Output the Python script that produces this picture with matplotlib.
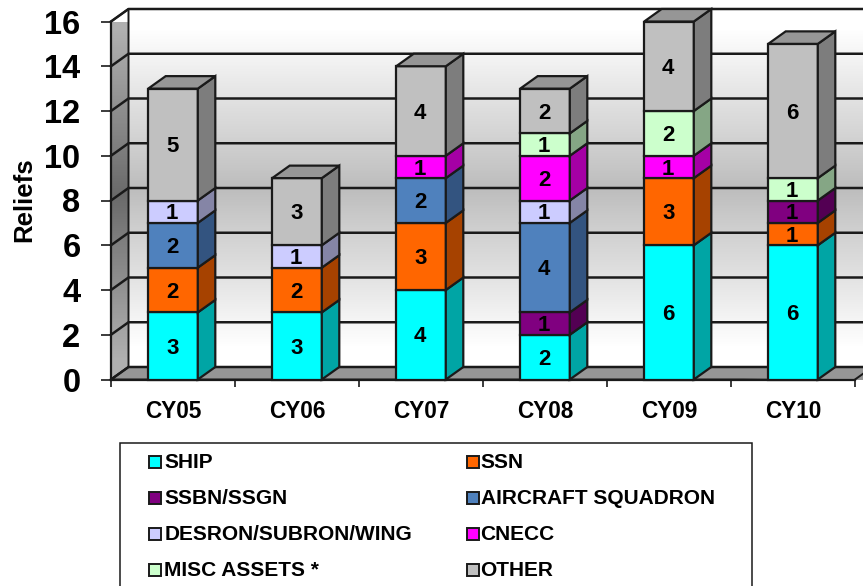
import matplotlib
matplotlib.use("Agg")
import matplotlib.pyplot as plt
from matplotlib.colors import LinearSegmentedColormap
from matplotlib.patches import Polygon, Rectangle
import numpy as np

years = ["CY05", "CY06", "CY07", "CY08", "CY09", "CY10"]
ship = [3, 3, 4, 2, 6, 6]
ssn = [2, 2, 3, 0, 3, 1]
ssbn = [0, 0, 0, 1, 0, 1]
aircraft = [2, 0, 2, 4, 0, 0]
desron = [1, 1, 0, 1, 0, 0]
cnecc = [0, 0, 1, 2, 1, 0]
misc = [0, 0, 0, 1, 2, 1]
other = [5, 3, 4, 2, 4, 6]

names = ["SHIP", "SSN", "SSBN/SSGN", "AIRCRAFT SQUADRON",
         "DESRON/SUBRON/WING", "CNECC", "MISC ASSETS *", "OTHER"]
series = [ship, ssn, ssbn, aircraft, desron, cnecc, misc, other]
colors = ["#00FFFF", "#FF6600", "#800080", "#4F81BD",
          "#CCCCFF", "#FF00FF", "#CCFFCC", "#C0C0C0"]
side_colors = ["#00A5A5", "#A64200", "#530053", "#335480",
               "#8585A6", "#A500A5", "#85A685", "#7D7D7D"]
top_color = "#969696"
line_color = "#1a1a1a"

W, H = 863, 586
DX = 17.5 / 124
DY = 12.5 * 16 / 358
BAR = 0.4

plt.rcParams["font.family"] = ["Liberation Sans", "DejaVu Sans"]
plt.rcParams["font.weight"] = "bold"


def figx(px):
    return px / W


def figy(py):
    return 1 - py / H


fig = plt.figure(figsize=(W / 100, H / 100), dpi=100)
ax = fig.add_axes([figx(111), figy(379.5), 744 / W, 358 / H])

# walls and floor
grad = np.array([0.0, 0.12, 0.25, 0.37, 0.5, 0.63, 0.75, 0.88, 1.0]).reshape(-1, 1)
back_map = LinearSegmentedColormap.from_list("back", ["#ffffff", "#bdbdbd", "#ffffff"])
side_map = LinearSegmentedColormap.from_list("side", ["#b0b0b0", "#6a6a6a", "#b0b0b0"])

ax.imshow(grad, cmap=back_map, extent=(-0.5 + DX, 6.5, DY, 16 + DY), aspect="auto",
          interpolation="bilinear", zorder=0, clip_on=False)
wall = ax.imshow(grad, cmap=side_map, extent=(-0.5, -0.5 + DX, 0, 16 + DY), aspect="auto",
                 interpolation="bilinear", zorder=0)
wall_shape = Polygon([(-0.5, 0), (-0.5 + DX, DY), (-0.5 + DX, 16 + DY), (-0.5, 16)],
                     closed=True, fc="none", ec=line_color, lw=1.4, zorder=1, clip_on=False)
ax.add_patch(wall_shape)
wall.set_clip_path(wall_shape)
ax.add_patch(Polygon([(-0.5, 0), (-0.5 + DX, DY), (6.5, DY), (5.5 + DX, DY), (5.5, 0)],
                     closed=True, fc=top_color, ec=line_color, lw=1.4, zorder=1, clip_on=False))
ax.add_patch(Polygon([(-0.5 + DX, DY), (5.5 + DX, DY), (5.5 + DX, 0), (5.5, 0)],
                     closed=True, fc=top_color, ec="none", zorder=1, clip_on=False))
ax.plot([5.5, 5.5 + DX], [0, DY], color=line_color, lw=1.4, zorder=1, clip_on=False)

# gridlines on the walls
for v in range(0, 18, 2):
    ax.plot([-0.5, -0.5 + DX, 6.5], [v, v + DY, v + DY], color=line_color, lw=1.8,
            zorder=2, clip_on=False)

# stacked bars
x = np.arange(len(years))
bottom = np.zeros(len(years))
for values, col, side in zip(series, colors, side_colors):
    values = np.array(values)
    for i in x:
        if values[i] == 0:
            continue
        y0, y1 = bottom[i], bottom[i] + values[i]
        r = i + BAR / 2
        ax.bar(i, values[i], BAR, bottom=y0, color=col, edgecolor=line_color, lw=1.6,
               zorder=5, clip_on=False)
        ax.fill([r, r + DX, r + DX, r], [y0, y0 + DY, y1 + DY, y1], fc=side,
                ec=line_color, lw=1.6, zorder=5, clip_on=False)
        ax.annotate(str(values[i]), (i, (y0 + y1) / 2), xytext=(-0.5, -1.5), textcoords="offset points",
                    ha="center", va="center", fontsize=16, fontweight="bold", color="black",
                    zorder=7, annotation_clip=False)
    bottom = bottom + values

for i in x:
    l, r = i - BAR / 2, i + BAR / 2
    top = bottom[i]
    ax.fill([l, l + DX, r + DX, r], [top, top + DY, top + DY, top], fc=top_color,
            ec=line_color, lw=1.6, zorder=6, clip_on=False)

ax.set_xlim(-0.5, 5.5)
ax.set_ylim(0, 16)
ax.set_yticks(range(0, 18, 2))
ax.set_xticks(x)
ax.set_xticklabels(years, fontsize=16.3, fontweight="bold")
ax.set_xticks(np.arange(-0.5, 6, 1), minor=True)
ax.tick_params(axis="x", which="major", length=0, pad=14.5)
ax.tick_params(axis="x", which="minor", length=5, width=1.2, color=line_color)
ax.tick_params(axis="y", length=7, width=1.2, color=line_color, pad=15, labelsize=23.5)
for lab in ax.get_yticklabels():
    lab.set_fontweight("bold")
for name in ["top", "right"]:
    ax.spines[name].set_visible(False)
for name in ["left", "bottom"]:
    ax.spines[name].set_color(line_color)
    ax.spines[name].set_linewidth(1.6)
    ax.spines[name].set_zorder(4)
ax.patch.set_visible(False)

fig.text(figx(24), figy(200), "Reliefs", rotation=90, ha="center", va="center",
         fontsize=18.5, fontweight="bold")

# legend box, runs off the bottom of the picture
fig.add_artist(Rectangle((figx(120), figy(600)), 632 / W, 157 / H, transform=fig.transFigure,
                         fc="white", ec=line_color, lw=1.1))
for k, (name, col) in enumerate(zip(names, colors)):
    cx = 149 if k % 2 == 0 else 467
    tx = 164.5 if k % 2 == 0 else 480.5
    cy = 461 + 36 * (k // 2)
    fig.add_artist(Rectangle((figx(cx), figy(cy + 6.5)), 12 / W, 12 / H, transform=fig.transFigure,
                             fc=col, ec=line_color, lw=1.4))
    fig.text(figx(tx), figy(cy + 1.5), name, ha="left", va="center", fontsize=15.05, fontweight="bold")

fig.savefig("out.png", dpi=100)
